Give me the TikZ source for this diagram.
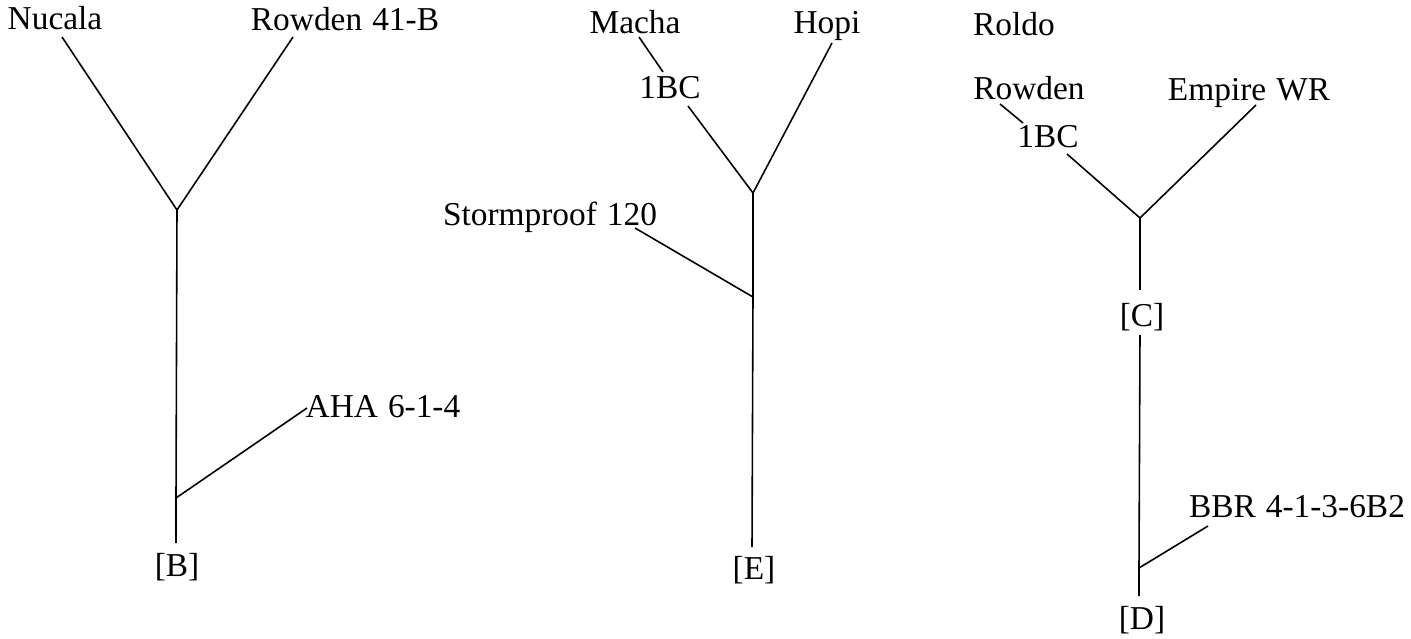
\documentclass[tikz,border=0pt]{standalone}
\usepackage{fontspec}
\setmainfont{Liberation Serif}

\begin{document}
\begin{tikzpicture}[x=0.02cm, y=-0.02cm, line width=0.9pt,
  lbl/.style={anchor=base, inner sep=0pt, font=\fontsize{19}{22}\selectfont}]
\useasboundingbox (0,0) rectangle (1411,639);
% left tree
\node[lbl] (nucala) at (55,30) {Nucala};
\node[lbl] (rowdenb) at (345,31) {Rowden\hspace{0.3em}41-B};
\node[lbl] (aha) at (383,417) {AHA\hspace{0.3em}6-1-4};
\node[lbl] (b) at (177,576) {[B]};
\coordinate (nucala-e) at (62,37);
\coordinate (rowdenb-e) at (293,37);
\coordinate (aha-e) at (307,408);
\coordinate (j1) at (177,210);
\coordinate (j2) at (176,498);
\coordinate (b-e) at (176,543);
\draw (nucala-e) -- (j1);
\draw (rowdenb-e) -- (j1);
\draw (j1) -- (j2) -- (b-e);
\draw (j2) -- (aha-e);
% middle tree
\node[lbl] (macha) at (635,33) {Macha};
\node[lbl] (bc1) at (670,98) {1BC};
\node[lbl] (hopi) at (827,33) {Hopi};
\node[lbl] (storm) at (550,225) {Stormproof\hspace{0.3em}120};
\node[lbl] (e) at (754,579) {[E]};
\coordinate (macha-e) at (639,37);
\coordinate (bc1-t) at (663,72);
\coordinate (bc1-e) at (688,106);
\coordinate (hopi-e) at (832,43);
\coordinate (storm-e) at (635,228);
\coordinate (j3) at (753,193);
\coordinate (j4) at (753,297);
\coordinate (e-e) at (752,547);
\draw (macha-e) -- (bc1-t);
\draw (bc1-e) -- (j3);
\draw (hopi-e) -- (j3);
\draw (j3) -- (j4) -- (e-e);
\draw (storm-e) -- (j4);
% right tree
\node[lbl] (roldo) at (1014,35) {Roldo};
\node[lbl] (rowden) at (1029,99) {Rowden};
\node[lbl] (bc2) at (1048,147) {1BC};
\node[lbl] (empire) at (1249,100) {Empire\hspace{0.3em}WR};
\node[lbl] (c) at (1142,326) {[C]};
\node[lbl] (bbr) at (1297,517) {BBR\hspace{0.3em}4-1-3-6B2};
\node[lbl] (d) at (1142,629) {[D]};
\coordinate (rowden-e) at (1000,104);
\coordinate (bc2-t) at (1023,123);
\coordinate (bc2-e) at (1067,154);
\coordinate (empire-e) at (1256,105);
\coordinate (j5) at (1140,218);
\coordinate (c-t) at (1140,290);
\coordinate (c-b) at (1140,335);
\coordinate (j6) at (1139,568);
\coordinate (bbr-e) at (1208,526);
\coordinate (d-e) at (1139,596);
\draw (rowden-e) -- (bc2-t);
\draw (bc2-e) -- (j5);
\draw (empire-e) -- (j5);
\draw (j5) -- (c-t);
\draw (c-b) -- (j6) -- (d-e);
\draw (j6) -- (bbr-e);
\end{tikzpicture}
\end{document}
